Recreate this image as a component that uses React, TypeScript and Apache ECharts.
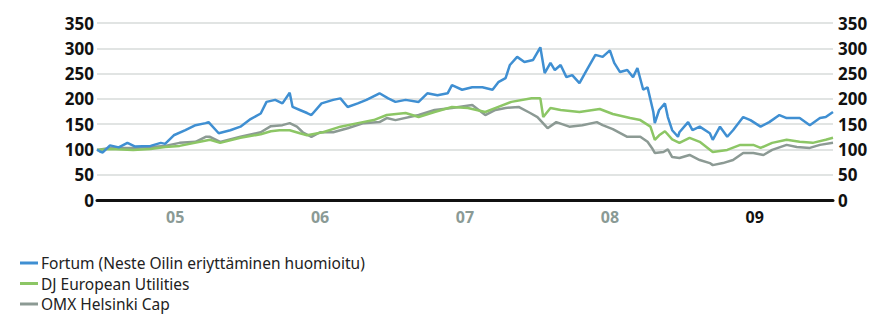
import React, { useEffect, useRef } from "react";
import * as echarts from "echarts";

const fortumDates = [2004.96, 2004.98, 2005.0, 2005.05, 2005.11, 2005.17, 2005.22, 2005.33, 2005.4, 2005.43, 2005.49, 2005.57, 2005.64, 2005.71, 2005.73, 2005.8, 2005.88, 2005.95, 2006.02, 2006.09, 2006.13, 2006.19, 2006.24, 2006.29, 2006.31, 2006.36, 2006.41, 2006.44, 2006.51, 2006.59, 2006.64, 2006.69, 2006.76, 2006.82, 2006.91, 2006.97, 2007.02, 2007.09, 2007.18, 2007.24, 2007.31, 2007.38, 2007.41, 2007.48, 2007.55, 2007.62, 2007.69, 2007.73, 2007.78, 2007.81, 2007.86, 2007.91, 2007.97, 2008.02, 2008.05, 2008.09, 2008.12, 2008.16, 2008.2, 2008.24, 2008.29, 2008.34, 2008.4, 2008.45, 2008.5, 2008.53, 2008.57, 2008.62, 2008.66, 2008.69, 2008.73, 2008.76, 2008.8, 2008.81, 2008.84, 2008.88, 2008.9, 2008.93, 2008.97, 2008.98, 2009.04, 2009.07, 2009.12, 2009.19, 2009.21, 2009.26, 2009.31, 2009.35, 2009.42, 2009.47, 2009.54, 2009.6, 2009.67, 2009.72, 2009.81, 2009.88, 2009.95, 2009.99, 2010.04];
const fortumValues = [100, 96, 94, 108, 104, 113, 106, 107, 113, 111, 128, 138, 148, 152, 154, 132, 138, 145, 160, 171, 194, 198, 191, 212, 184, 178, 172, 168, 191, 198, 201, 184, 191, 198, 211, 201, 194, 198, 194, 211, 207, 211, 227, 218, 223, 223, 218, 233, 241, 267, 283, 273, 277, 302, 251, 271, 257, 267, 243, 247, 231, 257, 287, 283, 296, 271, 253, 257, 243, 261, 218, 223, 174, 152, 178, 191, 164, 138, 125, 134, 154, 138, 145, 132, 119, 145, 125, 138, 164, 158, 145, 154, 168, 162, 162, 148, 162, 164, 174];

const djDates = [2004.96, 2005.05, 2005.21, 2005.33, 2005.43, 2005.53, 2005.67, 2005.74, 2005.81, 2005.95, 2006.09, 2006.16, 2006.22, 2006.29, 2006.36, 2006.41, 2006.52, 2006.64, 2006.76, 2006.87, 2006.96, 2007.09, 2007.18, 2007.29, 2007.41, 2007.52, 2007.64, 2007.73, 2007.82, 2007.96, 2008.02, 2008.04, 2008.09, 2008.16, 2008.29, 2008.43, 2008.52, 2008.64, 2008.71, 2008.78, 2008.81, 2008.84, 2008.88, 2008.93, 2008.98, 2009.05, 2009.12, 2009.21, 2009.31, 2009.4, 2009.49, 2009.54, 2009.62, 2009.72, 2009.81, 2009.9, 2009.99, 2010.04];
const djValues = [99, 101, 99, 101, 105, 107, 115, 119, 113, 123, 130, 136, 138, 138, 132, 128, 134, 145, 152, 158, 168, 172, 164, 174, 184, 182, 174, 184, 194, 201, 201, 164, 182, 178, 174, 180, 170, 162, 158, 145, 119, 128, 136, 120, 113, 123, 115, 95, 99, 109, 109, 103, 113, 119, 115, 113, 119, 123];

const omxDates = [2004.96, 2005.05, 2005.21, 2005.33, 2005.43, 2005.53, 2005.64, 2005.71, 2005.74, 2005.81, 2005.95, 2006.09, 2006.16, 2006.24, 2006.29, 2006.34, 2006.38, 2006.44, 2006.5, 2006.59, 2006.69, 2006.8, 2006.91, 2006.96, 2007.02, 2007.18, 2007.29, 2007.41, 2007.55, 2007.64, 2007.71, 2007.78, 2007.87, 2007.95, 2008.0, 2008.07, 2008.13, 2008.22, 2008.31, 2008.41, 2008.45, 2008.52, 2008.62, 2008.71, 2008.76, 2008.79, 2008.81, 2008.87, 2008.9, 2008.93, 2008.98, 2009.05, 2009.12, 2009.19, 2009.21, 2009.28, 2009.35, 2009.42, 2009.49, 2009.56, 2009.62, 2009.72, 2009.79, 2009.88, 2009.95, 2010.04];
const omxValues = [99, 103, 103, 105, 107, 113, 115, 125, 125, 115, 125, 134, 146, 148, 152, 145, 134, 125, 134, 134, 142, 152, 154, 162, 158, 168, 178, 182, 188, 168, 178, 182, 184, 172, 164, 142, 154, 145, 148, 154, 148, 140, 125, 125, 115, 103, 93, 95, 100, 85, 83, 89, 79, 73, 69, 73, 79, 93, 93, 89, 99, 109, 105, 103, 109, 113];

const yearLabels = ["05", "06", "07", "08", "09"];
const yearLabelPositions = [2005.5, 2006.5, 2007.5, 2008.5, 2009.5];
const highlightedYear = "09";

const seriesNames = [
  "Fortum (Neste Oilin eriyttäminen huomioitu)",
  "DJ European Utilities",
  "OMX Helsinki Cap",
];
const colors = ["#3f8fd2", "#8cc665", "#8c9a94"];

const font = "'Noto Sans', 'Open Sans', sans-serif";

function pairs(xs: number[], ys: number[]) {
  return xs.map((x, i) => [x, ys[i]]);
}

export default function App() {
  const ref = useRef<HTMLDivElement>(null);
  useEffect(() => {
    if (!ref.current) return;
    const chart = echarts.init(ref.current, undefined, { renderer: "svg" });
    const yLabel = {
      fontFamily: font,
      fontWeight: "bold" as const,
      fontSize: 17,
      color: "#111",
      padding: [0, 0, 8, 0],
    };
    chart.setOption({
      animation: false,
      grid: { left: 97, right: 50, top: 23, bottom: 115 },
      legend: {
        orient: "vertical",
        left: 15,
        top: 250,
        height: 64,
        padding: [5, 5, 0, 5],
        itemGap: 4.5,
        itemWidth: 18,
        itemHeight: 3,
        icon: "rect",
        textStyle: { fontFamily: font, fontSize: 15.5, lineHeight: 15, color: "#222", padding: [0, 0, 0, -2] },
        data: seriesNames,
      },
      xAxis: {
        type: "value",
        min: 2004.96,
        max: 2010.04,
        splitLine: { show: false },
        axisTick: { show: false },
        axisLine: { show: true, onZero: false, lineStyle: { color: "#111", width: 3 } },
        axisLabel: {
          customValues: yearLabelPositions,
          margin: 9,
          formatter: (v: number) => {
            const i = yearLabelPositions.findIndex((p) => Math.abs(p - v) < 1e-6);
            if (i < 0) return "";
            const t = yearLabels[i];
            return t === highlightedYear ? `{b|${t}}` : `{g|${t}}`;
          },
          rich: {
            g: { fontFamily: font, fontWeight: "bold", fontSize: 16, color: "#8a9a95" },
            b: { fontFamily: font, fontWeight: "bold", fontSize: 16, color: "#111" },
          },
        },
      },
      yAxis: [
        {
          type: "value",
          min: 0,
          max: 350,
          interval: 50,
          position: "left",
          axisLine: { show: false },
          axisTick: { show: false },
          axisLabel: { ...yLabel, margin: 3 },
          splitLine: { show: true, lineStyle: { color: "#e1e4e3", width: 2 } },
        },
        {
          type: "value",
          min: 0,
          max: 350,
          interval: 50,
          position: "right",
          axisLine: { show: false },
          axisTick: { show: false },
          axisLabel: { ...yLabel, margin: 5 },
          splitLine: { show: false },
        },
      ],
      series: [
        { name: seriesNames[2], data: pairs(omxDates, omxValues), color: colors[2] },
        { name: seriesNames[1], data: pairs(djDates, djValues), color: colors[1] },
        { name: seriesNames[0], data: pairs(fortumDates, fortumValues), color: colors[0] },
      ].map((s) => ({
        ...s,
        type: "line",
        showSymbol: false,
        symbol: "none",
        lineStyle: { width: 2.5, color: s.color },
        itemStyle: { color: s.color },
      })),
    });
    return () => chart.dispose();
  }, []);
  return (
    <div
      ref={ref}
      style={{ position: "absolute", left: 0, top: 0, width: 883, height: 315 }}
    />
  );
}
